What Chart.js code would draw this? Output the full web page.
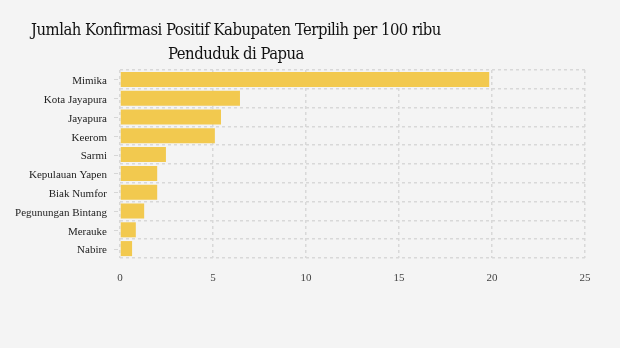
<!DOCTYPE html>
<html>
<head>
<meta charset="utf-8">
<script src="https://cdn.jsdelivr.net/npm/chart.js@4"></script>
<style>
    html, body { margin: 0; padding: 0; background: #f4f4f4; }
    #wrap { position: relative; width: 620px; height: 348px; }
    #title {
        position: absolute; left: 0; top: 18px; width: 472px;
        text-align: center; font-family: "DejaVu Serif Condensed", "DejaVu Serif", serif;
        font-size: 16.5px; letter-spacing: -0.5px; line-height: 24px; color: #111;
        white-space: nowrap;
    }
    canvas { position: absolute; left: 0; top: 0; }
</style>
</head>
<body>
<div id="wrap">
    <canvas id="chart" width="620" height="348"></canvas>
    <div id="title">Jumlah Konfirmasi Positif Kabupaten Terpilih per 100 ribu<br>Penduduk di Papua</div>
</div>
<script>
const kabupaten = ['Mimika', 'Kota Jayapura', 'Jayapura', 'Keerom', 'Sarmi', 'Kepulauan Yapen', 'Biak Numfor', 'Pegunungan Bintang', 'Merauke', 'Nabire'];
const kasusPer100rb = [19.85, 6.45, 5.43, 5.1, 2.47, 2.0, 2.0, 1.3, 0.85, 0.65];
const xTicks = [0, 5, 10, 15, 20, 25];

// small tick marks next to the category labels
const labelTicks = {
    id: 'labelTicks',
    afterDatasetsDraw(chart) {
        const y = chart.scales.y;
        const ctx = chart.ctx;
        ctx.save();
        ctx.strokeStyle = '#d6d6d6';
        ctx.lineWidth = 1;
        y.ticks.forEach((t, i) => {
            const py = Math.round(y.getPixelForTick(i)) + 0.5;
            ctx.beginPath();
            ctx.moveTo(y.right - 6, py);
            ctx.lineTo(y.right - 2, py);
            ctx.stroke();
        });
        ctx.restore();
    }
};

new Chart(document.getElementById('chart').getContext('2d'), {
    type: 'bar',
    data: {
        labels: kabupaten,
        datasets: [{
            data: kasusPer100rb,
            backgroundColor: '#f2c94f',
            categoryPercentage: 0.8,
            barPercentage: 1
        }]
    },
    options: {
        indexAxis: 'y',
        responsive: false,
        animation: false,
        layout: { padding: { left: 0, right: 35, top: 70, bottom: 60 } },
        plugins: { legend: { display: false }, tooltip: { enabled: false } },
        scales: {
            x: {
                min: 0, max: 25,
                afterBuildTicks: s => { s.ticks = xTicks.map(v => ({ value: v })); },
                afterFit: s => { s.height = 30; },
                border: { display: false, dash: [3, 3] },
                grid: { color: '#d8d8d8', lineWidth: 1.5, tickLength: 0, drawTicks: false },
                ticks: { color: '#444', padding: 14, font: { family: 'Liberation Serif', size: 11 } }
            },
            y: {
                afterFit: s => { s.width = 120; },
                border: { display: false, dash: [3, 3] },
                grid: { color: '#d8d8d8', lineWidth: 1.5, drawTicks: false, offset: true },
                ticks: { color: '#222', padding: 13, labelOffset: 2, font: { family: 'Liberation Serif', size: 11 } }
            }
        }
    },
    plugins: [labelTicks]
});
</script>
</body>
</html>
